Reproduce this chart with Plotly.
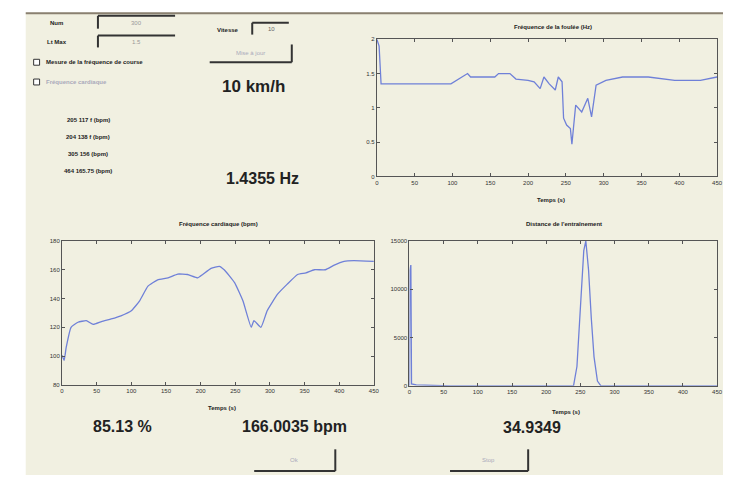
import plotly.graph_objects as go

W, H = 729, 478

# ---------------- data ----------------
stride_t = [0, 3, 5.6, 98, 120, 124, 156, 161, 176, 184, 200, 208, 216, 221, 228, 236, 240, 245,
            247, 251, 256, 258, 260, 263, 271, 279, 284, 290, 303, 325, 359, 394, 428, 450]
stride_hz = [2.0, 1.9, 1.35, 1.35, 1.5, 1.45, 1.45, 1.5, 1.5, 1.42, 1.40, 1.38, 1.28, 1.45, 1.35,
             1.26, 1.45, 1.38, 0.85, 0.75, 0.70, 0.47, 0.70, 1.04, 0.94, 1.14, 0.87, 1.33, 1.40,
             1.45, 1.45, 1.40, 1.40, 1.45]

hr_t = [0, 3, 6, 13, 23, 35, 45, 57, 71, 85, 100, 112, 124, 138, 153, 167, 181, 196, 203, 215,
        227, 234, 249, 261, 273, 277, 287, 296, 311, 325, 340, 352, 364, 380, 392, 407, 421, 450]
hr_bpm = [100.6, 97, 106, 120, 123.5, 124.6, 122, 124, 125.8, 128, 131.5, 138.4, 148.6, 153,
          154.4, 157, 156.7, 154.4, 156.7, 161, 162.4, 160, 151, 138.4, 120, 124.6, 120, 131.5,
          143, 150, 156.7, 157.8, 160, 160, 163, 165.8, 166.3, 165.8]

dist_t = [0, 0.5, 2, 3, 10, 30, 60, 240, 245, 250, 255, 258, 262, 266, 270, 275, 280, 450]
dist_v = [0, 12000, 12500, 200, 100, 50, 0, 0, 2000, 8000, 14000, 15000, 12000, 7000, 3000, 500, 0, 0]

x_ticks = [0, 50, 100, 150, 200, 250, 300, 350, 400, 450]
stride_yticks = [0, 0.5, 1, 1.5, 2]
hr_yticks = [80, 100, 120, 140, 160, 180]
dist_yticks = [0, 5000, 10000, 15000]

titles = ["Fréquence de la foulée (Hz)", "Fréquence cardiaque (bpm)", "Distance de l'entraînement"]
xlabel = "Temps (s)"
list_lines = ["205 117 f (bpm)", "204 138 f (bpm)", "305 156 (bpm)", "464 165.75 (bpm)"]

# ---------------- helpers (pixel -> paper) ----------------
def px(x):
    return x / W

def py(y):
    return 1 - y / H

LINE = "#6f80d8"
FONT = "Liberation Sans, Arial, sans-serif"

fig = go.Figure()
fig.add_trace(go.Scatter(x=stride_t, y=stride_hz, mode="lines", line=dict(color=LINE, width=1.3),
                         xaxis="x", yaxis="y", showlegend=False))
fig.add_trace(go.Scatter(x=hr_t, y=hr_bpm, mode="lines", line=dict(color=LINE, width=1.3, shape="spline", smoothing=0.4),
                         xaxis="x2", yaxis="y2", showlegend=False))
fig.add_trace(go.Scatter(x=dist_t, y=dist_v, mode="lines", line=dict(color=LINE, width=1.3),
                         xaxis="x3", yaxis="y3", showlegend=False))

def ax(domain, rng, ticks, anchor):
    return dict(domain=domain, range=rng, tickmode="array", tickvals=ticks,
                ticktext=[("%g" % t) for t in ticks],
                showline=True, linecolor="#555", linewidth=1.2, mirror="ticks",
                ticks="inside", ticklen=3, tickcolor="#555", showgrid=False, zeroline=False,
                tickfont=dict(size=6, color="#333", family=FONT), anchor=anchor, fixedrange=True)

fig.update_layout(
    width=W, height=H, margin=dict(l=0, r=0, t=0, b=0),
    paper_bgcolor="white", plot_bgcolor="white",
    xaxis=ax([px(379), px(723)], [0, 450], x_ticks, "y"),
    yaxis=ax([py(175.7), py(36.7)], [0, 2], stride_yticks, "x"),
    xaxis2=ax([px(60.7), px(376)], [0, 450], x_ticks, "y2"),
    yaxis2=ax([py(386.7), py(241)], [80, 180], hr_yticks, "x2"),
    xaxis3=ax([px(412), px(723)], [0, 450], x_ticks, "y3"),
    yaxis3=ax([py(387.7), py(241)], [0, 15000], dist_yticks, "x3"),
)

shapes = []
# GUI background panel
shapes.append(dict(type="rect", xref="paper", yref="paper", x0=px(24), x1=px(729), y0=py(478), y1=py(10),
                   fillcolor="#f1f0e1", line=dict(width=0), layer="below"))
shapes.append(dict(type="line", xref="paper", yref="paper", x0=px(24), x1=px(729), y0=py(10.5), y1=py(10.5),
                   line=dict(color="#8a8070", width=2)))

def sunken(x0, y0, x1, y1):
    shapes.append(dict(type="line", xref="paper", yref="paper", x0=px(x0), x1=px(x1), y0=py(y0), y1=py(y0),
                       line=dict(color="#333", width=2)))
    shapes.append(dict(type="line", xref="paper", yref="paper", x0=px(x0), x1=px(x0), y0=py(y0), y1=py(y1),
                       line=dict(color="#333", width=2)))

def raised(x0, y0, x1, y1):
    shapes.append(dict(type="line", xref="paper", yref="paper", x0=px(x0), x1=px(x1), y0=py(y1), y1=py(y1),
                       line=dict(color="#333", width=2)))
    shapes.append(dict(type="line", xref="paper", yref="paper", x0=px(x1), x1=px(x1), y0=py(y0), y1=py(y1),
                       line=dict(color="#333", width=2)))

sunken(97, 13, 175, 26)
sunken(97, 33, 175, 45)
sunken(253, 20, 290, 32)
raised(210, 42, 293, 60)
raised(255, 452, 337, 474)
raised(453, 452, 532, 474)
# checkboxes
for cy in (60, 80):
    shapes.append(dict(type="rect", xref="paper", yref="paper", x0=px(32), x1=px(38), y0=py(cy + 3), y1=py(cy - 3),
                       fillcolor="white", line=dict(color="#333", width=1)))

fig.update_layout(shapes=shapes)

ann = []
def text(x, y, s, size=6, color="#222", bold=True, xanchor="center"):
    ann.append(dict(xref="paper", yref="paper", x=px(x), y=py(y), text=("<b>%s</b>" % s) if bold else s,
                    showarrow=False, xanchor=xanchor, yanchor="middle",
                    font=dict(size=size, color=color, family=FONT)))

# axes titles and labels
text(557, 24, titles[0], size=6)
text(555, 199, xlabel, size=6)
text(219, 224, titles[1], size=6)
text(222, 410, xlabel, size=6)
text(568, 224, titles[2], size=6)
text(570, 414, xlabel, size=6)

# GUI controls text
text(55, 20, "Num", size=6)
text(136, 20, "300", size=6, color="#999", bold=False)
text(56, 40, "Lt Max", size=6)
text(136, 39, "1.5", size=6, color="#999", bold=False)
text(42, 60, "Mesure de la fréquence de course", size=6, xanchor="left")
text(42, 80, "Fréquence cardiaque", size=6, color="#aab", xanchor="left")
text(229, 27, "Vitesse", size=6)
text(272, 26, "10", size=6, color="#666", bold=False)
text(251, 51, "Mise à jour", size=6, color="#aab", bold=False)
text(254, 85, "10 km/h", size=17, color="#222")
for i, s in enumerate(list_lines):
    text(87, 118 + i * 17.4, s, size=6)
text(263, 178, "1.4355 Hz", size=16, color="#222")
text(122, 429, "85.13 %", size=16, color="#222")
text(296, 429, "166.0035 bpm", size=16, color="#222")
text(536, 430, "34.9349", size=16, color="#222")
text(296, 463, "Ok", size=6, color="#aab", bold=False)
text(492, 463, "Stop", size=6, color="#aab", bold=False)

fig.update_layout(annotations=ann)

fig.write_html("out.html", config={"displayModeBar": False},
               post_script="document.body.style.margin='0';document.body.style.overflow='hidden';")
